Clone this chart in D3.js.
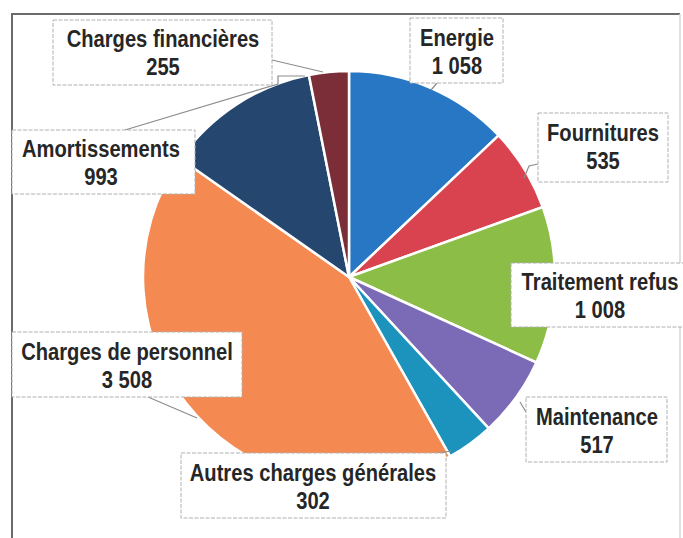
<!DOCTYPE html>
<meta charset="utf-8">
<body style="margin:0;background:#fff">
<script src="https://d3js.org/d3.v7.min.js"></script>
<div id="chart"></div>
<script>
// data
var categories = ["Energie", "Fournitures", "Traitement refus", "Maintenance",
    "Autres charges générales", "Charges de personnel", "Amortissements", "Charges financières"];
var values = [1058, 535, 1008, 517, 302, 3508, 993, 255];
var colors = ["#2877c5", "#d8434f", "#8cbd47", "#7b6ab6", "#1b93bd", "#f48a51", "#25466f", "#7b2e37"];

// label boxes: [x, y, w, h], text centre, first baseline
var boxes = [
    [410, 18, 93, 65, 457, 46],
    [538, 113, 130, 69, 603, 141],
    [511, 263, 180, 64, 600, 290],
    [526, 397, 141, 65, 597, 425],
    [181, 453, 265, 65, 313, 481],
    [12, 332, 230, 65, 127, 360],
    [12, 130, 183, 64, 101, 157],
    [53, 20, 219, 65, 163, 47]
];
var leaders = [
    [[437, 83], [431, 90]],
    [[538, 164], [529, 166], [524, 178]],
    [],
    [[526, 412], [520, 402]],
    [[438, 453], [451, 451]],
    [[148, 397], [197, 418]],
    [[125, 130], [278, 84], [278, 76], [305, 76]],
    [[272, 60], [323, 72]]
];

var fr = d3.formatLocale({decimal: ",", thousands: " ", grouping: [3], currency: ["", " €"]});
var fmt = fr.format(",d");

var width = 683, height = 538;
var cx = 349, cy = 277, radius = 206;

var svg = d3.select("#chart").append("svg")
    .attr("width", width)
    .attr("height", height);

// chart frame
svg.append("path")
    .attr("d", "M12,538 L12,14 L680,14")
    .attr("fill", "none").attr("stroke", "#6b6b6b").attr("stroke-width", 2);
svg.append("line")
    .attr("x1", 680).attr("y1", 14).attr("x2", 680).attr("y2", 538)
    .attr("stroke", "#d6d6d6").attr("stroke-width", 1.5);

var pie = d3.pie().sort(null).value(d => d.value);
var arc = d3.arc().innerRadius(0).outerRadius(radius);

var data = categories.map((c, i) => ({name: c, value: values[i], color: colors[i]}));

var g = svg.append("g").attr("transform", `translate(${cx},${cy})`);
g.selectAll("path.slice")
    .data(pie(data))
    .join("path")
    .attr("class", "slice")
    .attr("d", arc)
    .attr("fill", d => d.data.color)
    .attr("stroke", "#fff")
    .attr("stroke-width", 2.5);

// leader lines
svg.selectAll("polyline.leader")
    .data(leaders)
    .join("polyline")
    .attr("points", d => d.map(p => p.join(",")).join(" "))
    .attr("fill", "none")
    .attr("stroke", "#8c8c8c")
    .attr("stroke-width", 1.2);

// label boxes
var lab = svg.selectAll("g.lab")
    .data(data)
    .join("g")
    .attr("class", "lab");

lab.append("rect")
    .attr("x", (d, i) => boxes[i][0])
    .attr("y", (d, i) => boxes[i][1])
    .attr("width", (d, i) => boxes[i][2])
    .attr("height", (d, i) => boxes[i][3])
    .attr("fill", "#fff")
    .attr("stroke", "#b0b0b0")
    .attr("stroke-width", 1)
    .attr("stroke-dasharray", "4,1.5");

// narrow bold type: squeeze Liberation Sans horizontally
var txt = lab.append("text")
    .attr("transform", (d, i) => `translate(${boxes[i][4]},0) scale(0.84,1)`)
    .attr("text-anchor", "middle")
    .attr("font-family", "'Liberation Sans', Arial, sans-serif")
    .attr("font-weight", "bold")
    .attr("font-size", 24)
    .attr("fill", "#262626");
txt.append("tspan")
    .attr("x", 0)
    .attr("y", (d, i) => boxes[i][5])
    .text(d => d.name);
txt.append("tspan")
    .attr("x", 0)
    .attr("y", (d, i) => boxes[i][5] + 28)
    .text(d => fmt(d.value));
</script>
</body>
